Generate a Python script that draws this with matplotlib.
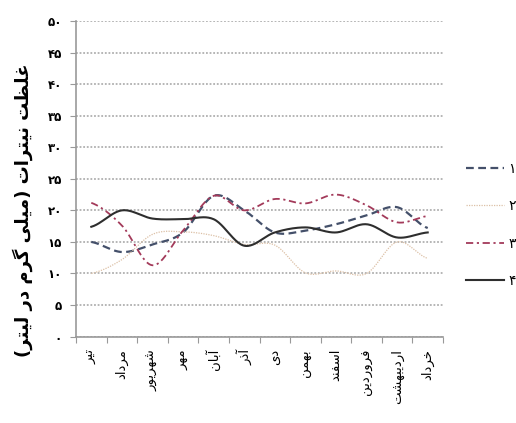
import numpy as np
import matplotlib
matplotlib.use("Agg")
import matplotlib.pyplot as plt
from matplotlib.ticker import FixedLocator

# months of the Persian calendar, water year starting in Tir
months = ["تیر", "مرداد", "شهریور", "مهر", "آبان", "آذر",
          "دی", "بهمن", "اسفند", "فروردین", "اردیبهشت", "خرداد"]

# nitrate concentration (mg/L) for four sampling stations
station1 = [15.0, 13.4, 14.6, 16.5, 22.3, 20.0, 16.5, 16.8, 17.8, 19.2, 20.5, 17.2]
station2 = [10.0, 12.2, 16.2, 16.6, 16.0, 14.6, 14.5, 10.1, 10.4, 10.0, 15.0, 12.4]
station3 = [21.2, 17.6, 11.3, 16.8, 22.3, 20.0, 21.8, 21.1, 22.5, 20.8, 18.1, 19.1]
station4 = [17.4, 20.0, 18.7, 18.6, 18.6, 14.4, 16.5, 17.3, 16.5, 17.8, 15.7, 16.5]

station_names = ["ایستگاه ۱", "ایستگاه ۲", "ایستگاه ۳", "ایستگاه ۴"]
y_label = "غلظت نیترات (میلی گرم در لیتر)"
y_ticks = [0, 5, 10, 15, 20, 25, 30, 35, 40, 45, 50]

# --- minimal Arabic-script shaping (matplotlib has no RTL layout) ---
# letter: (isolated, final, initial, medial)
FORMS = {
    "ا": ("\uFE8D", "\uFE8E", None, None),
    "آ": ("\uFE81", "\uFE82", None, None),
    "ب": ("\uFE8F", "\uFE90", "\uFE91", "\uFE92"),
    "ت": ("\uFE95", "\uFE96", "\uFE97", "\uFE98"),
    "خ": ("\uFEA5", "\uFEA6", "\uFEA7", "\uFEA8"),
    "د": ("\uFEA9", "\uFEAA", None, None),
    "ذ": ("\uFEAB", "\uFEAC", None, None),
    "ر": ("\uFEAD", "\uFEAE", None, None),
    "ز": ("\uFEAF", "\uFEB0", None, None),
    "س": ("\uFEB1", "\uFEB2", "\uFEB3", "\uFEB4"),
    "ش": ("\uFEB5", "\uFEB6", "\uFEB7", "\uFEB8"),
    "ظ": ("\uFEC5", "\uFEC6", "\uFEC7", "\uFEC8"),
    "غ": ("\uFECD", "\uFECE", "\uFECF", "\uFED0"),
    "ف": ("\uFED1", "\uFED2", "\uFED3", "\uFED4"),
    "ل": ("\uFEDD", "\uFEDE", "\uFEDF", "\uFEE0"),
    "م": ("\uFEE1", "\uFEE2", "\uFEE3", "\uFEE4"),
    "ن": ("\uFEE5", "\uFEE6", "\uFEE7", "\uFEE8"),
    "ه": ("\uFEE9", "\uFEEA", "\uFEEB", "\uFEEC"),
    "و": ("\uFEED", "\uFEEE", None, None),
    "ی": ("\uFBFC", "\uFBFD", "\uFBFE", "\uFBFF"),
    "گ": ("\uFB92", "\uFB93", "\uFB94", "\uFB95"),
}


def shape(text):
    out = []
    for i, ch in enumerate(text):
        if ch not in FORMS:
            out.append(ch)
            continue
        prev = text[i - 1] if i > 0 else ""
        nxt = text[i + 1] if i + 1 < len(text) else ""
        join_prev = prev in FORMS and FORMS[prev][2] is not None
        join_next = FORMS[ch][2] is not None and nxt in FORMS
        iso, fin, ini, med = FORMS[ch]
        if join_prev and join_next:
            out.append(med)
        elif join_prev:
            out.append(fin)
        elif join_next:
            out.append(ini)
        else:
            out.append(iso)
    vis = "".join(reversed(out))
    return vis.translate(str.maketrans("()", ")("))


def fa_digits(n):
    return str(n).translate(str.maketrans("0123456789", "۰۱۲۳۴۵۶۷۸۹"))


def smooth(xs, ys, n=24):
    # Catmull-Rom curve through the points, like a spreadsheet "smoothed line"
    x = np.asarray(xs, float)
    y = np.asarray(ys, float)
    px = np.concatenate([[2 * x[0] - x[1]], x, [2 * x[-1] - x[-2]]])
    py = np.concatenate([[y[0]], y, [y[-1]]])
    sx, sy = [], []
    t = np.linspace(0, 1, n, endpoint=False)
    for i in range(1, len(px) - 2):
        for arr, res in ((px, sx), (py, sy)):
            p0, p1, p2, p3 = arr[i - 1], arr[i], arr[i + 1], arr[i + 2]
            res.extend(0.5 * (2 * p1 + (-p0 + p2) * t
                              + (2 * p0 - 5 * p1 + 4 * p2 - p3) * t ** 2
                              + (-p0 + 3 * p1 - 3 * p2 + p3) * t ** 3))
    sx.append(x[-1])
    sy.append(y[-1])
    return sx, sy


plt.rcParams["font.family"] = ["DejaVu Sans"]

fig = plt.figure(figsize=(5.16, 4.23), dpi=100)
ax = fig.add_axes([76 / 516, 1 - 336.6 / 423, 367 / 516, 315.6 / 423])

xpos = np.arange(len(months)) + 0.5
series = [
    (station1, dict(color="#44506a", lw=1.6, ls=(0, (3.5, 2)))),
    (station2, dict(color="#dcc0a6", lw=0.9, ls=(0, (1, 1)))),
    (station3, dict(color="#a33a5a", lw=1.3, ls=(0, (4, 2, 1.2, 2)))),
    (station4, dict(color="#2e2e2e", lw=1.5, ls="-")),
]
for (vals, style), name in zip(series, station_names):
    sx, sy = smooth(xpos, vals)
    ax.plot(sx, sy, label=shape(name), **style)

ax.set_xlim(0, len(months))
ax.set_ylim(0, 50)
ax.set_yticks(y_ticks)
ax.set_yticklabels([fa_digits(v) for v in y_ticks], fontsize=8.5, fontweight="bold")
ax.yaxis.grid(True, color="#b0b0b0", ls=(0, (1, 1)), lw=1.3)
ax.set_axisbelow(True)

ax.xaxis.set_major_locator(FixedLocator(np.arange(len(months) + 1)))
ax.xaxis.set_minor_locator(FixedLocator(xpos))
ax.set_xticklabels([])
ax.set_xticks(xpos, [shape(m) for m in months], minor=True)
ax.tick_params(axis="x", which="minor", length=0, pad=9)
ax.tick_params(axis="x", which="major", length=4, color="#999999")
ax.tick_params(axis="y", length=4, color="#999999", pad=6)
for lab in ax.get_xticklabels(minor=True):
    lab.set_rotation(90)
    lab.set_fontsize(9.5)
    lab.set_va("top")
    lab.set_ha("center")

for side in ("top", "right"):
    ax.spines[side].set_visible(False)
for side in ("left", "bottom"):
    ax.spines[side].set_color("#999999")
    ax.spines[side].set_linewidth(1.2)

fig.text(23 / 516, 1 - 210 / 423, shape(y_label), rotation=90,
         ha="center", va="center", fontsize=13, fontweight="bold")

fig.legend(loc="center left", bbox_to_anchor=(466 / 516, 1 - 224.5 / 423),
           frameon=False, fontsize=10, handlelength=2.7, handletextpad=0.4,
           labelspacing=1.65, borderpad=0, borderaxespad=0)

fig.savefig("out.png", dpi=100)
